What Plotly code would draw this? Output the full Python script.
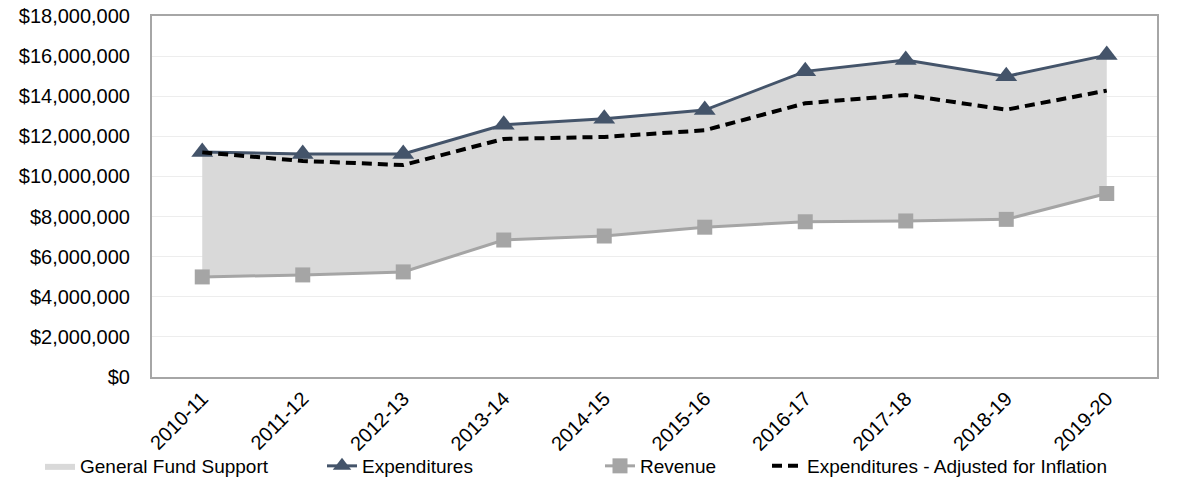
import plotly.graph_objects as go

years = ["2010-11", "2011-12", "2012-13", "2013-14", "2014-15",
         "2015-16", "2016-17", "2017-18", "2018-19", "2019-20"]
expenditures = [11220000, 11120000, 11120000, 12580000, 12880000,
                13310000, 15240000, 15810000, 14990000, 16050000]
revenue = [4990000, 5090000, 5240000, 6830000, 7030000,
           7470000, 7740000, 7780000, 7860000, 9150000]
inflation_adj = [11200000, 10770000, 10570000, 11870000, 11970000,
                 12300000, 13650000, 14060000, 13330000, 14280000]
y_ticks = [0, 2000000, 4000000, 6000000, 8000000, 10000000,
           12000000, 14000000, 16000000, 18000000]
y_tick_text = ["$0", "$2,000,000", "$4,000,000", "$6,000,000", "$8,000,000",
               "$10,000,000", "$12,000,000", "$14,000,000", "$16,000,000", "$18,000,000"]

FONT = "Liberation Sans, Arial, sans-serif"
EXP_COLOR = "#44546a"
REV_COLOR = "#a5a5a5"
FILL_COLOR = "#d9d9d9"

fig = go.Figure()

# base for the General Fund Support band
fig.add_trace(go.Scatter(x=years, y=revenue, mode="lines", line=dict(width=0, color=FILL_COLOR),
                         showlegend=False, hoverinfo="skip"))
fig.add_trace(go.Scatter(x=years, y=expenditures, mode="lines", fill="tonexty",
                         fillcolor=FILL_COLOR, line=dict(width=0, color=FILL_COLOR),
                         name="General Fund Support", legend="legend"))
fig.add_trace(go.Scatter(x=years, y=expenditures, mode="lines+markers", name="Expenditures",
                         line=dict(color=EXP_COLOR, width=3),
                         marker=dict(symbol="triangle-up", size=19, color=EXP_COLOR),
                         legend="legend2"))
fig.add_trace(go.Scatter(x=years, y=revenue, mode="lines+markers", name="Revenue",
                         line=dict(color=REV_COLOR, width=3),
                         marker=dict(symbol="square", size=15, color=REV_COLOR),
                         legend="legend3"))
fig.add_trace(go.Scatter(x=years, y=inflation_adj, mode="lines", name="Expenditures - Adjusted for Inflation",
                         line=dict(color="black", width=4, dash="10px,6px"),
                         legend="legend4"))

W, H = 1196, 480
L, T = 152, 16
R, B = 1196 - 1157, 480 - 377
pw = W - L - R
ph = H - T - B

def lx(px):
    return (px - L) / pw

ly = (H - B - 466) / ph
leg_common = dict(orientation="h", yanchor="middle", xanchor="left", y=ly,
                  font=dict(family=FONT, size=19, color="black"), bgcolor="rgba(0,0,0,0)",
                  itemwidth=30)

fig.update_layout(
    width=W, height=H,
    margin=dict(l=L, r=R, t=T, b=B, autoexpand=False),
    paper_bgcolor="white", plot_bgcolor="white",
    font=dict(family=FONT, size=19, color="black"),
    legend=dict(leg_common, x=lx(40)),
    legend2=dict(leg_common, x=lx(322)),
    legend3=dict(leg_common, x=lx(600)),
    legend4=dict(leg_common, x=lx(767)),
    xaxis=dict(type="category", range=[-0.5, 9.5], tickangle=-45,
               showline=True, mirror=True, linecolor="#a6a6a6", linewidth=2,
               showgrid=False, ticks="", automargin=False,
               tickfont=dict(family=FONT, size=20, color="black")),
    yaxis=dict(range=[0, 18000000], tickvals=y_ticks, ticktext=y_tick_text,
               showline=True, mirror=True, linecolor="#a6a6a6", linewidth=2,
               gridcolor="#ededed", gridwidth=1, zeroline=False, ticks="",
               ticklabelstandoff=16, automargin=False, ticklabeloverflow="allow",
               tickfont=dict(family=FONT, size=20, color="black")),
)

# remove the default 8px page margin so the figure sits at the window's corner
fig.write_html("out.html", config={"displayModeBar": False},
               post_script="document.body.style.margin='0';")
